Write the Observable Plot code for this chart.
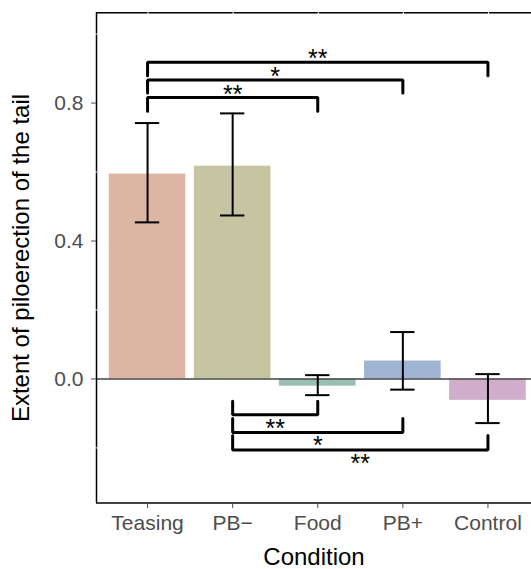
<!DOCTYPE html>
<html>
<head>
<meta charset="utf-8">
<script src="https://cdn.jsdelivr.net/npm/d3@7"></script>
<script src="https://cdn.jsdelivr.net/npm/@observablehq/plot@0.6"></script>
<style>
  html, body { margin: 0; padding: 0; background: #fff; }
  #chart { width: 531px; height: 569px; }
</style>
</head>
<body>
<div id="chart"></div>
<script>
// ---- data ----
const categories = ["Teasing", "PB\u2212", "Food", "PB+", "Control"];
const means = [0.594, 0.617, -0.021, 0.052, -0.062];
const lower = [0.454, 0.474, -0.047, -0.031, -0.128];
const upper = [0.742, 0.770, 0.011, 0.136, 0.014];
const colors = ["#DDB5A4", "#C5C6A1", "#99BFB5", "#A0B5D4", "#D0ADCB"];
const yTicks = [0, 0.4, 0.8];
const yMinor = [-0.2, 0.2, 0.6, 1.0];

// significance brackets
const bracketFrom = ["Teasing", "Teasing", "Teasing", "PB\u2212", "PB\u2212", "PB\u2212"];
const bracketTo = ["Food", "PB+", "Control", "Food", "PB+", "Control"];
const bracketLevel = [0.816, 0.867, 0.918, -0.104, -0.155, -0.206];
const bracketTip = [0.776, 0.829, 0.879, -0.065, -0.115, -0.164];
const bracketLabel = ["**", "*", "**", "**", "*", "**"];

// ---- build tables ----
const idx = c => categories.indexOf(c) + 1;
const positions = categories.map((c, i) => i + 1);
const bars = categories.map((c, i) => ({
  cat: c, i: i + 1, mean: means[i], lo: lower[i], hi: upper[i], color: colors[i]
}));
const brackets = bracketFrom.map((f, k) => ({
  k, x1: idx(f), x2: idx(bracketTo[k]), level: bracketLevel[k], tip: bracketTip[k],
  label: bracketLabel[k], above: bracketLevel[k] > 0
}));
const bracketPath = brackets.flatMap(b => [
  {k: b.k, x: b.x1, y: b.tip},
  {k: b.k, x: b.x1, y: b.level},
  {k: b.k, x: b.x2, y: b.level},
  {k: b.k, x: b.x2, y: b.tip}
]);

const xDomain = [0.4, categories.length + 0.6];
const yDomain = [-0.360, 1.062];
const half = 0.45, capHalf = 0.143;

const chart = Plot.plot({
  width: 531,
  height: 569,
  marginLeft: 96,
  marginRight: 0,
  marginTop: 12,
  marginBottom: 66,
  style: {fontFamily: "'Liberation Sans', Arial, sans-serif", background: "#fff"},
  x: {domain: xDomain, range: [96, 538.5]},
  y: {domain: yDomain, range: [502.6, 12.2]},
  color: {type: "identity"},
  marks: [
    // bars
    Plot.rectY(bars, {x1: d => d.i - half, x2: d => d.i + half, y1: 0, y2: "mean", fill: "color"}),
    // zero line
    Plot.ruleY([0], {stroke: "#444", strokeWidth: 1.4}),
    // error bars
    Plot.ruleX(bars, {x: "i", y1: "lo", y2: "hi", stroke: "#000", strokeWidth: 2}),
    Plot.ruleY(bars, {y: "lo", x1: d => d.i - capHalf, x2: d => d.i + capHalf, stroke: "#000", strokeWidth: 2}),
    Plot.ruleY(bars, {y: "hi", x1: d => d.i - capHalf, x2: d => d.i + capHalf, stroke: "#000", strokeWidth: 2}),
    // brackets
    Plot.line(bracketPath, {x: "x", y: "y", z: "k", stroke: "#000", strokeWidth: 3, strokeLinejoin: "miter", curve: "linear"}),
    Plot.text(brackets.filter(b => b.above), {x: b => (b.x1 + b.x2) / 2, y: "level", text: "label", fontSize: 25, dy: -3, fill: "#000"}),
    Plot.text(brackets.filter(b => !b.above), {x: b => (b.x1 + b.x2) / 2, y: "level", text: "label", fontSize: 25, dy: 14, fill: "#000"}),
    // panel border lines (left, top, bottom)
    Plot.ruleX([xDomain[0]], {y1: yDomain[0], y2: yDomain[1], stroke: "#000", strokeWidth: 1.5}),
    Plot.ruleY([yDomain[0], yDomain[1]], {x1: xDomain[0], x2: xDomain[1], stroke: "#000", strokeWidth: 1.5}),
    // white grid lines showing through the panel border
    Plot.ruleX(positions, {y1: yDomain[1] - 0.005, y2: yDomain[1] + 0.005, stroke: "#fff", strokeWidth: 1, dx: 0.5}),
    Plot.ruleY(yMinor, {x1: xDomain[0] - 0.012, x2: xDomain[0] + 0.012, stroke: "#fff", strokeWidth: 1}),
    // axes
    Plot.axisY({ticks: yTicks, tickFormat: d => d.toFixed(1), tickSize: 5, tickPadding: 8, fontSize: 21, color: "#4D4D4D", label: null}),
    Plot.axisX({ticks: positions, tickFormat: v => categories[v - 1], tickSize: 5, tickPadding: 7, fontSize: 21, color: "#4D4D4D", label: null}),
    // axis titles
    Plot.text(["Condition"], {frameAnchor: "bottom", dy: 53.5, text: d => d, fontSize: 24, fill: "#000", lineAnchor: "middle", textAnchor: "middle"}),
    Plot.text(["Extent of piloerection of the tail"], {frameAnchor: "left", dx: -75.5, rotate: -90, text: d => d, fontSize: 24, fill: "#000", lineAnchor: "middle", textAnchor: "middle"})
  ]
});
document.getElementById("chart").appendChild(chart);
</script>
</body>
</html>
